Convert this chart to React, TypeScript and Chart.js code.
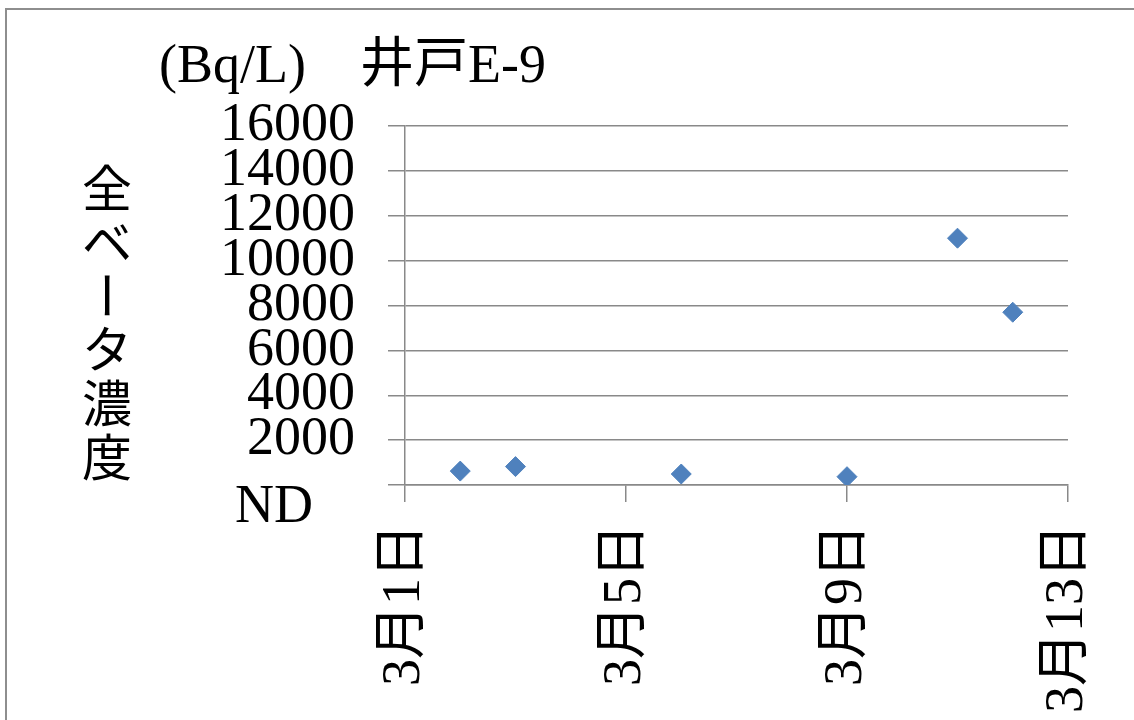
import React, { useEffect, useRef } from 'react';
import { Chart, registerables } from 'chart.js';

Chart.register(...registerables);

// ---- data ----
const xDays = [2, 3, 6, 9, 11, 12];
const betaValues = [620, 820, 490, 370, 11000, 7700];
const xTickDays = [1, 5, 9, 13];
const xTickLabels = ['3月1日', '3月5日', '3月9日', '3月13日'];
const yTickValues = [0, 2000, 4000, 6000, 8000, 10000, 12000, 14000, 16000];
const yTickLabels = ['', '2000', '4000', '6000', '8000', '10000', '12000', '14000', '16000'];
const zeroLabel = 'ND';
const titleText = '(Bq/L)\u3000井戸E-9';
const yAxisTitleChars = ['全', 'ベ', 'ー', 'タ', '濃', '度'];

const W = 1134;
const H = 720;
const SERIF = '"Liberation Serif", "Noto Sans CJK JP", serif';
const GRID = '#898989';
const BLUE = '#4F81BD';

const decorPlugin = {
  id: 'decor',
  afterDraw(chart: any) {
    const ctx = chart.ctx as CanvasRenderingContext2D;
    ctx.save();
    // outer frame
    ctx.strokeStyle = '#8e8e8e';
    ctx.lineWidth = 2;
    ctx.beginPath();
    ctx.moveTo(6, H);
    ctx.lineTo(6, 9);
    ctx.lineTo(W, 9);
    ctx.stroke();

    // title
    ctx.fillStyle = '#000';
    ctx.font = `54px ${SERIF}`;
    ctx.textAlign = 'left';
    ctx.textBaseline = 'alphabetic';
    ctx.fillText(titleText, 159, 82);

    // ND label below zero line
    const y0 = chart.scales.y.getPixelForValue(0);
    ctx.fillText(zeroLabel, 235, y0 + 37);

    // vertical y-axis title
    ctx.font = '50px "Noto Sans CJK JP", sans-serif';
    ctx.textAlign = 'center';
    ctx.textBaseline = 'middle';
    yAxisTitleChars.forEach((ch, i) => {
      const cx = 107;
      const cy = 188 + i * 53.8;
      if (ch === 'ー') {
        ctx.save();
        ctx.translate(cx, cy);
        ctx.rotate(Math.PI / 2);
        ctx.fillText(ch, 0, 0);
        ctx.restore();
      } else {
        ctx.fillText(ch, cx, cy);
      }
    });
    ctx.restore();
  },
};

export default function App() {
  const ref = useRef<HTMLCanvasElement>(null);

  useEffect(() => {
    if (!ref.current) return;
    const chart = new Chart(ref.current, {
      type: 'scatter',
      data: {
        datasets: [
          {
            data: xDays.map((d, i) => ({ x: d, y: betaValues[i] })),
            pointStyle: 'rectRot',
            pointRadius: 10,
            pointHoverRadius: 10,
            backgroundColor: BLUE,
            borderColor: BLUE,
            borderWidth: 1,
            showLine: false,
          },
        ],
      },
      options: {
        animation: false,
        responsive: false,
        devicePixelRatio: 1,
        layout: { padding: { left: 0, right: W - 1068, top: 126, bottom: 0 } },
        plugins: {
          legend: { display: false },
          tooltip: { enabled: false },
          title: { display: false },
        },
        scales: {
          x: {
            type: 'linear',
            min: xTickDays[0],
            max: xTickDays[xTickDays.length - 1],
            afterBuildTicks: (scale: any) => {
              scale.ticks = xTickDays.map((v) => ({ value: v }));
            },
            afterFit: (scale: any) => {
              scale.height = H - 485;
              scale.paddingLeft = 0;
              scale.paddingRight = 0;
            },
            ticks: {
              minRotation: 90,
              maxRotation: 90,
              autoSkip: false,
              padding: 22,
              color: '#000',
              font: { family: SERIF, size: 54 },
              callback: (v: any) => {
                const idx = xTickDays.indexOf(Number(v));
                return idx >= 0 ? xTickLabels[idx] : '';
              },
            },
            grid: {
              drawOnChartArea: false,
              drawTicks: true,
              tickLength: 17,
              color: GRID,
              lineWidth: 1.5,
            },
            border: { display: true, color: GRID, width: 1.5 },
          },
          y: {
            type: 'linear',
            min: 0,
            max: 16000,
            afterBuildTicks: (scale: any) => {
              scale.ticks = yTickValues.map((v) => ({ value: v }));
            },
            afterFit: (scale: any) => {
              scale.width = 405;
              scale.paddingTop = 0;
              scale.paddingBottom = 0;
            },
            ticks: {
              autoSkip: false,
              padding: 33,
              color: '#000',
              font: { family: SERIF, size: 54 },
              callback: (v: any) => {
                const idx = yTickValues.indexOf(Number(v));
                return idx >= 0 ? yTickLabels[idx] : '';
              },
            },
            grid: {
              drawTicks: true,
              tickLength: 17,
              color: GRID,
              lineWidth: 1.5,
            },
            border: { display: true, color: GRID, width: 1.5 },
          },
        },
      },
      plugins: [decorPlugin],
    });
    return () => chart.destroy();
  }, []);

  return (
    <div style={{ position: 'absolute', left: 0, top: 0, width: W, height: H, background: '#fff' }}>
      <canvas ref={ref} width={W} height={H} style={{ display: 'block', width: W, height: H }} />
    </div>
  );
}
